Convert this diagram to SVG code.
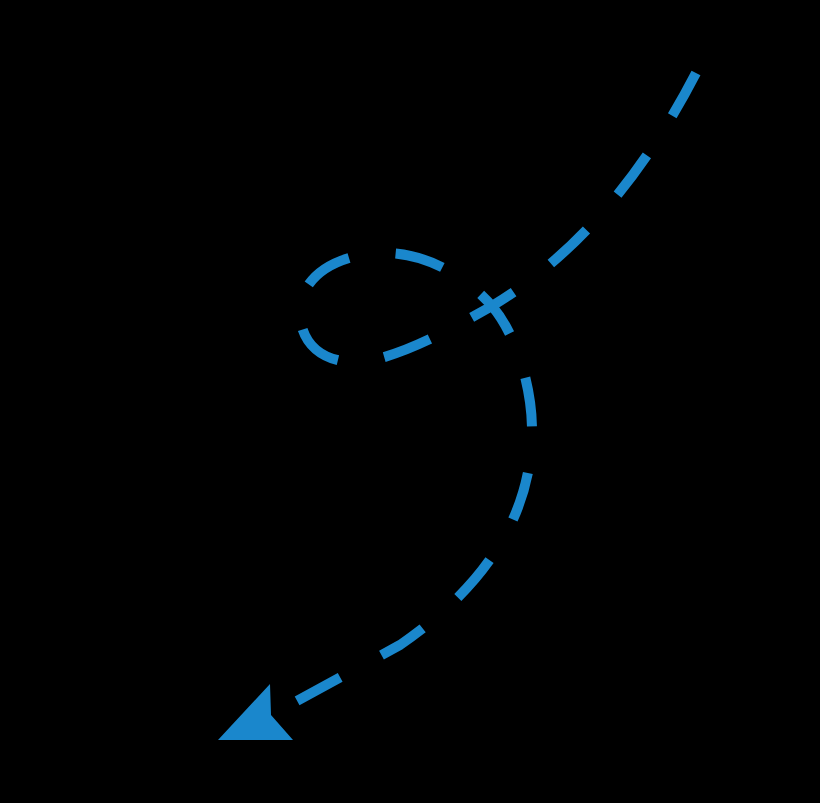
<svg xmlns="http://www.w3.org/2000/svg" width="820" height="803" viewBox="0 0 820 803">
<style>
.path{fill:none;stroke:#1a87cc;stroke-width:10;stroke-dasharray:49 47}
.head{fill:#1a87cc}
</style>
<rect width="820" height="803" fill="#000"/>
<g id="connectors">
<path class="path" d="M696,73 C650,162 585,250 492,306 C453,328 400,358 360,362 C325,364 300,345 300,312 C300,275 340,253 385,253 C425,253 465,275 492,306 C518,337 532,390 532,430 C532,520 480,590 400,645 L271,715"/>
<polygon class="head" points="218,740 270,684 271,715 293,740"/>
</g>
</svg>
